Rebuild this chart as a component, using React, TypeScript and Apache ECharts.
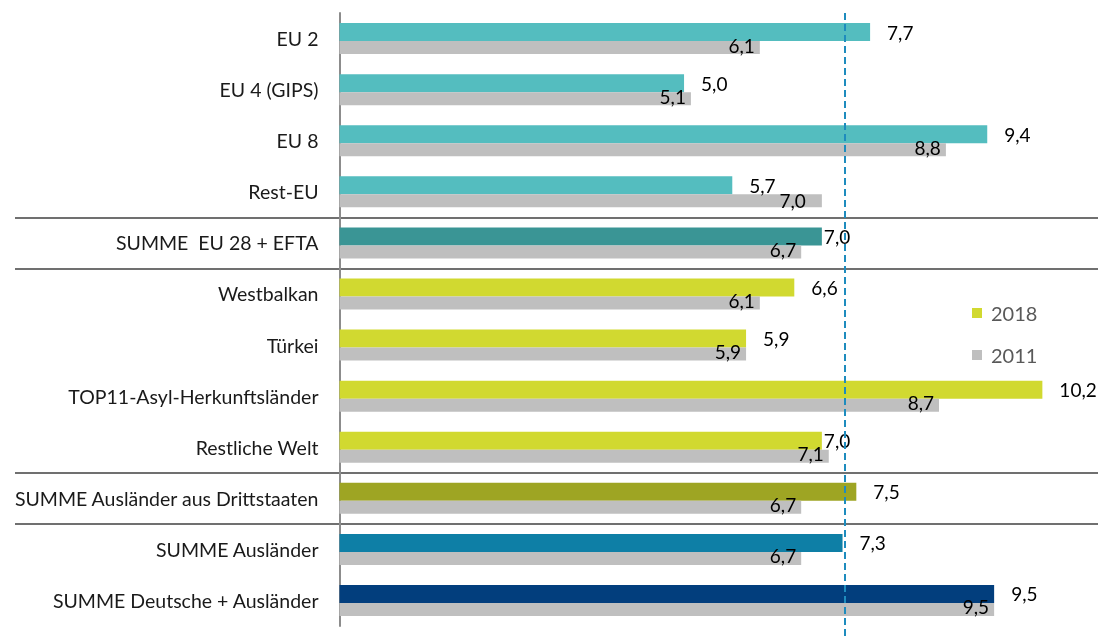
import React, { useEffect, useRef } from "react";
import * as echarts from "echarts";

const categories = [
  "EU 2",
  "EU 4 (GIPS)",
  "EU 8",
  "Rest-EU",
  "SUMME  EU 28 + EFTA",
  "Westbalkan",
  "Türkei",
  "TOP11-Asyl-Herkunftsländer",
  "Restliche Welt",
  "SUMME Ausländer aus Drittstaaten",
  "SUMME Ausländer",
  "SUMME Deutsche + Ausländer",
];
const values2018 = [7.7, 5.0, 9.4, 5.7, 7.0, 6.6, 5.9, 10.2, 7.0, 7.5, 7.3, 9.5];
const values2011 = [6.1, 5.1, 8.8, 7.0, 6.7, 6.1, 5.9, 8.7, 7.1, 6.7, 6.7, 9.5];
const referenceValue = 7.33;

const colors2018 = [
  "#54BDBF", "#54BDBF", "#54BDBF", "#54BDBF",
  "#3A9595",
  "#D1D930", "#D1D930", "#D1D930", "#D1D930",
  "#9EA523",
  "#0E7FA6",
  "#023E7D",
];
const tightLabelIdx = [4, 8];
const shiftedGrayLabelIdx = [3];
const separatorTicks = [4, 5, 9, 10];
// separator grid covers the categories down to the last separator
const separatorCategories = categories.slice(0, 10);

const fmt = (p: any) => Number(p.value).toFixed(1).replace(".", ",");
const FONT = "Lato";

const TOP = 13;
const HEIGHT = 613;
const BAND = HEIGHT / categories.length;

export default function App() {
  const ref = useRef<HTMLDivElement>(null);
  useEffect(() => {
    if (!ref.current) return;
    const chart = echarts.init(ref.current, null, { renderer: "svg" });
    chart.setOption({
      animation: false,
      textStyle: { fontFamily: FONT },
      legend: {
        data: ["2018", "2011"],
        orient: "vertical",
        left: 972,
        top: 303,
        padding: 0,
        itemWidth: 10,
        itemHeight: 10,
        itemGap: 22,
        icon: "rect",
        textStyle: { fontSize: 20, color: "#595959", fontFamily: FONT, padding: [0, 0, 0, 4] },
      },
      grid: [
        { left: 339.5, top: TOP, width: 758, height: HEIGHT },
        { left: 15, top: TOP, width: 1083, height: BAND * separatorCategories.length },
        { left: 339.5, top: 9, width: 758, height: 627 },
      ],
      xAxis: [
        { gridIndex: 0, type: "value", min: 0, max: 11, show: false },
        { gridIndex: 1, type: "value", min: 0, max: 1, show: false },
        { gridIndex: 2, type: "value", min: 0, max: 11, show: false },
      ],
      yAxis: [
        {
          gridIndex: 0,
          type: "category",
          data: categories,
          inverse: true,
          axisLine: { show: true, lineStyle: { color: "#8c8c8c", width: 2 } },
          axisTick: { show: false },
          splitLine: { show: false },
          axisLabel: { fontSize: 19.5, color: "#1a1a1a", margin: 21, fontFamily: FONT },
        },
        {
          gridIndex: 1,
          type: "category",
          data: separatorCategories,
          inverse: true,
          axisLine: { show: false },
          axisTick: { show: false },
          axisLabel: { show: false },
          splitLine: {
            show: true,
            interval: (i: number) => separatorTicks.includes(i),
            lineStyle: { color: "#707070", width: 2 },
          },
        },
        { gridIndex: 2, type: "value", min: 0, max: 1, show: false },
      ],
      series: [
        {
          name: "2018",
          type: "bar",
          xAxisIndex: 0,
          yAxisIndex: 0,
          barWidth: 18,
          barGap: "0%",
          itemStyle: { color: "#D1D930" },
          label: { show: true, position: "right", distance: 17, fontSize: 19, color: "#000", formatter: fmt, fontFamily: FONT },
          data: values2018.map((v, i) => ({
            value: v,
            itemStyle: { color: colors2018[i] },
            label: tightLabelIdx.includes(i) ? { distance: 2 } : undefined,
          })),
        },
        {
          name: "2011",
          type: "bar",
          xAxisIndex: 0,
          yAxisIndex: 0,
          barWidth: 13,
          barGap: "0%",
          itemStyle: { color: "#BFBFBF" },
          label: { show: true, position: "insideRight", distance: 5, offset: [0, -2.5], fontSize: 19, color: "#000", formatter: fmt, fontFamily: FONT },
          data: values2011.map((v, i) => ({
            value: v,
            label: shiftedGrayLabelIdx.includes(i) ? { offset: [-11, 0] } : undefined,
          })),
        },
        {
          name: "ref",
          type: "scatter",
          xAxisIndex: 2,
          yAxisIndex: 2,
          symbolSize: 0,
          silent: true,
          z: 10,
          data: [[referenceValue, 0.5]],
          markLine: {
            silent: true,
            symbol: ["none", "none"],
            label: { show: false },
            lineStyle: { color: "#1E8CBE", width: 2, type: [7, 4] },
            data: [{ xAxis: referenceValue }],
          },
        },
      ],
    });
    return () => chart.dispose();
  }, []);
  return <div ref={ref} style={{ position: "fixed", left: 0, top: 0, width: 1102, height: 639 }} />;
}
